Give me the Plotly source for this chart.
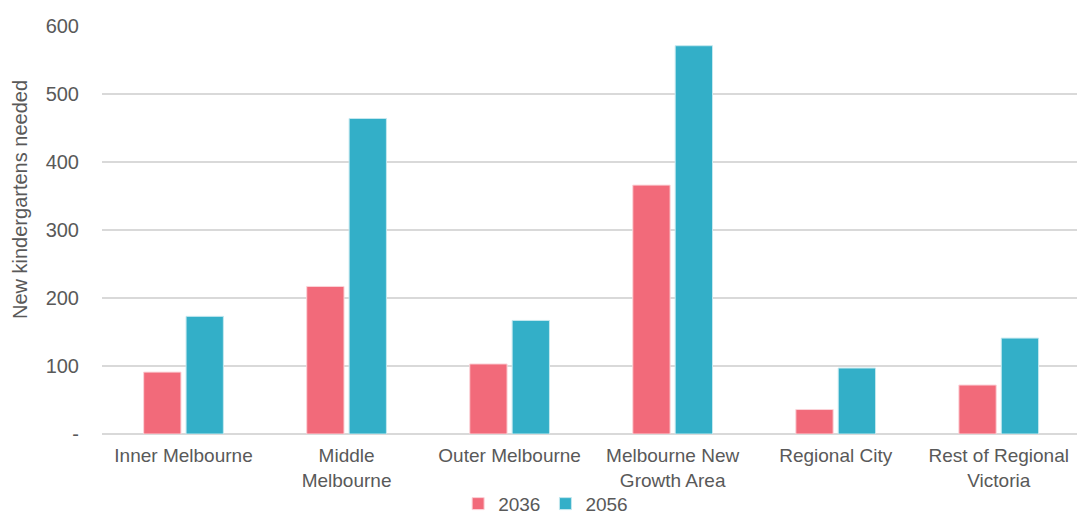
import plotly.graph_objects as go

categories = ["Inner Melbourne", "Middle<br>Melbourne", "Outer Melbourne",
              "Melbourne New<br>Growth Area", "Regional City", "Rest of Regional<br>Victoria"]
values_2036 = [91, 217, 103, 366, 36, 72]
values_2056 = [173, 464, 167, 571, 97, 141]
y_tick_vals = [0, 100, 200, 300, 400, 500, 600]
y_tick_text = ["-", "100", "200", "300", "400", "500", "600"]

FONT = "Liberation Sans, Arial, sans-serif"
TXT = "#595959"
FS = 20

fig = go.Figure()
fig.add_trace(go.Bar(name="2036", x=categories, y=values_2036,
                     marker=dict(color="#F26A7A", line=dict(color="#FBD3D8", width=1))))
fig.add_trace(go.Bar(name="2056", x=categories, y=values_2056,
                     marker=dict(color="#33AFC8", line=dict(color="#C4E8EF", width=1))))

fig.update_layout(
    width=1077, height=518,
    margin=dict(l=102, r=0, t=26, b=84, autoexpand=False),
    paper_bgcolor="white", plot_bgcolor="white",
    barmode="group", bargap=0.48, bargroupgap=0.12,
    font=dict(family=FONT, size=FS, color=TXT),
    showlegend=True,
    legend=dict(orientation="h", x=0.455, xanchor="center", y=-0.171, yanchor="middle",
                bgcolor="rgba(0,0,0,0)",
                font=dict(size=19, color=TXT), itemwidth=30, traceorder="normal"),
    xaxis=dict(range=[-0.5, 5.48], showgrid=False, showline=False, zeroline=False,
               automargin=False,
               ticks="", tickfont=dict(size=19, color=TXT), ticklabelstandoff=8),
    yaxis=dict(range=[0, 600], tickvals=y_tick_vals, ticktext=y_tick_text,
               automargin=False,
               showgrid=True, gridcolor="#D9D9D9", gridwidth=1.5,
               zeroline=True, zerolinecolor="#D9D9D9", zerolinewidth=1.5,
               showline=False, ticks="", tickfont=dict(size=FS, color=TXT),
               ticklabelstandoff=22),
    annotations=[dict(text="New kindergartens needed", textangle=-90,
                      xref="paper", yref="paper", x=-0.0841, y=0.5735,
                      xanchor="center", yanchor="middle", showarrow=False,
                      font=dict(size=FS, color=TXT, family=FONT))],
)

fig.write_html("out.html")
